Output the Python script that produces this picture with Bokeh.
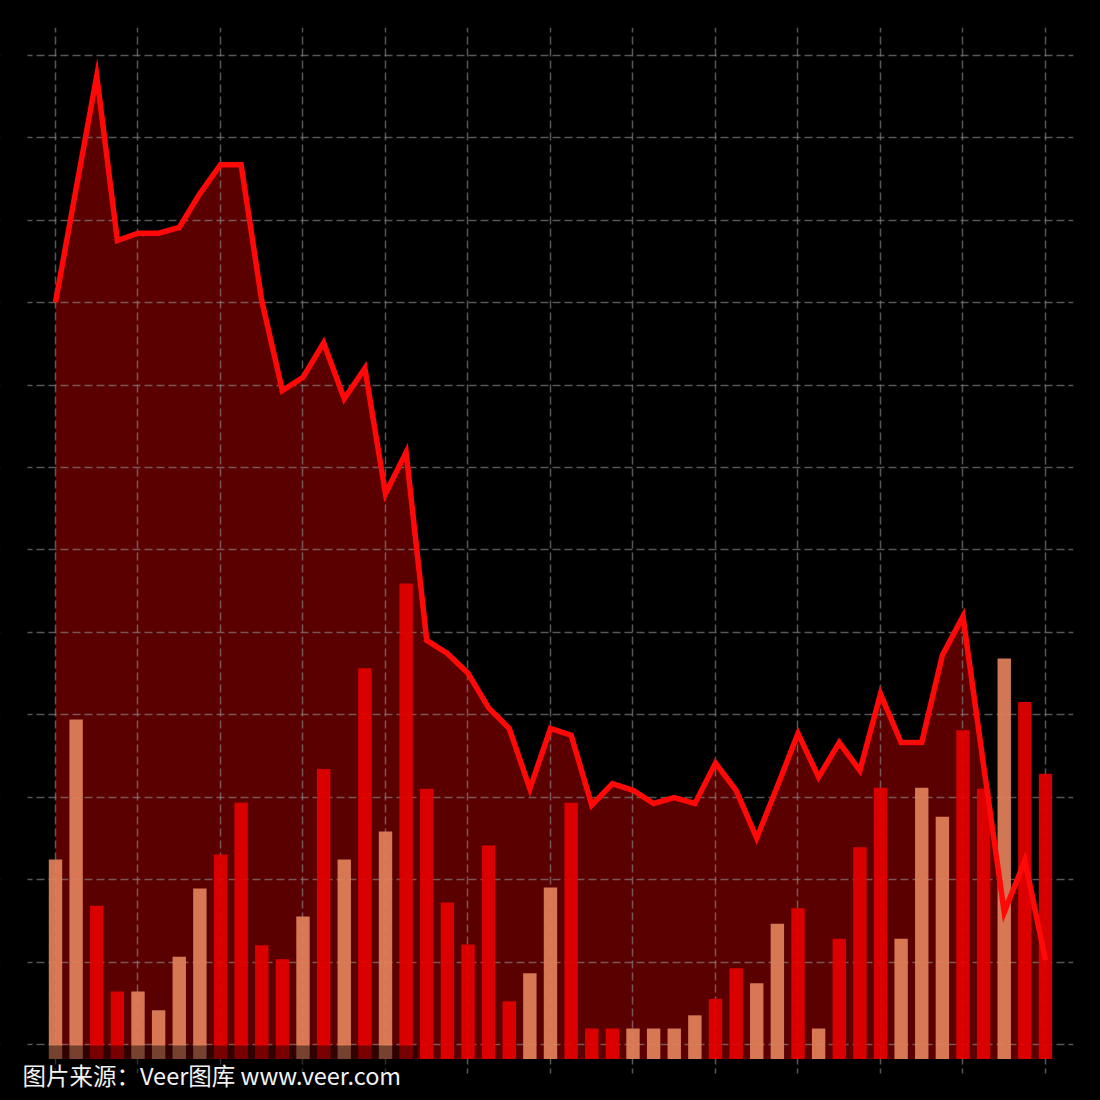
from jinja2 import Template
from bokeh.plotting import figure
from bokeh.models import Range1d, FixedTicker, Label, BoxAnnotation, ColumnDataSource
from bokeh.transform import factor_cmap
from bokeh.embed import file_html
from bokeh.resources import INLINE

# one entry per session
sessions = list(range(49))

# price line (also the top of the shaded area)
price = [91.8, 105.6, 119.3, 99.3, 100.2, 100.2, 100.9, 105.0, 108.5, 108.5,
         92.0, 81.1, 82.7, 86.9, 80.1, 83.8, 68.6, 73.6, 50.8, 49.2,
         46.8, 42.6, 40.1, 32.8, 40.1, 39.3, 30.8, 33.4, 32.6, 31.0,
         31.7, 31.0, 35.9, 32.6, 26.8, 33.1, 39.5, 34.2, 38.4, 35.0,
         44.3, 38.4, 38.4, 49.0, 53.7, 35.6, 17.8, 24.1, 12.0]

# volume bars
volume = [24.2, 41.2, 18.6, 8.2, 8.2, 5.9, 12.4, 20.7, 24.8, 31.1,
          13.8, 12.1, 17.3, 35.2, 24.2, 47.4, 27.6, 57.7, 32.8, 19.0,
          13.9, 25.9, 7.0, 10.4, 20.8, 31.1, 3.7, 3.7, 3.7, 3.7,
          3.7, 5.3, 7.3, 11.0, 9.2, 16.4, 18.3, 3.7, 14.6, 25.7,
          32.9, 14.6, 32.9, 29.4, 39.9, 32.8, 48.6, 43.3, 34.6]

# bar kind: "down" sessions in red, "up" sessions in salmon
kind = ["up", "up", "down", "down", "up", "up", "up", "up", "down", "down",
        "down", "down", "up", "down", "up", "down", "up", "down", "down", "down",
        "down", "down", "down", "up", "up", "down", "down", "down", "up", "up",
        "up", "up", "down", "down", "up", "up", "down", "up", "down", "down",
        "down", "up", "up", "up", "down", "down", "up", "down", "down"]

kinds = ["down", "up"]
kind_colors = ["#e40000", "#e2805a"]

# grid every four sessions horizontally, every 10 units vertically
x_grid = list(range(0, 49, 4))
y_grid = [1.76 + 10 * k for k in range(13)]

# extent of the gridded chart area (data units)
chart_left, chart_bottom = -1.3576, -1.759

source = ColumnDataSource(dict(session=sessions, price=price, volume=volume, kind=kind))

p = figure(width=1100, height=1100, output_backend="svg", toolbar_location=None,
           x_range=Range1d(-2.6667, 49.358), y_range=Range1d(-5.035, 125.15),
           x_axis_location=None, y_axis_location=None,
           min_border_left=0, min_border_right=27, min_border_top=27, min_border_bottom=0,
           background_fill_color=None, border_fill_color="black",
           outline_line_color=None)

# shaded area under the price line, drawn beneath the grid
p.varea(x="session", y1=0, y2="price", source=source, fill_color="#5a0000", level="image")

p.xgrid.ticker = FixedTicker(ticks=x_grid)
p.ygrid.ticker = FixedTicker(ticks=y_grid)
for g in (p.xgrid, p.ygrid):
    g.grid_line_color = "#909090"
    g.grid_line_alpha = 0.6
    g.grid_line_dash = "8 4"
    g.grid_line_width = 1.5

# black margins that trim the grid lines to the chart area
p.add_layout(BoxAnnotation(right=chart_left, fill_color="black", fill_alpha=1,
                           line_color=None, level="underlay"))
p.add_layout(BoxAnnotation(top=chart_bottom, fill_color="black", fill_alpha=1,
                           line_color=None, level="underlay"))

p.vbar(x="session", top="volume", bottom=0, width=0.65, source=source,
       fill_color=factor_cmap("kind", palette=kind_colors, factors=kinds),
       fill_alpha=0.93, line_color=None)

p.line(x="session", y="price", source=source, line_color="#ff0808",
       line_width=5.5, line_join="miter")

# watermark band and credit text
p.add_layout(BoxAnnotation(right=17.55, top=1.64, fill_color="black",
                           fill_alpha=0.45, line_color=None))
p.add_layout(Label(x=-1.6, y=-1.95, text="图片来源：Veer图库 www.veer.com",
                   text_font="Noto Sans CJK SC", text_font_size="23.5px",
                   text_color="#f2f2f2", text_baseline="middle", text_align="left"))

page = Template("""{% extends base %}
{% block preamble %}<style>html, body { margin: 0; background: #000; }</style>{% endblock %}""")

open("out.html", "w").write(file_html(p, INLINE, template=page))
